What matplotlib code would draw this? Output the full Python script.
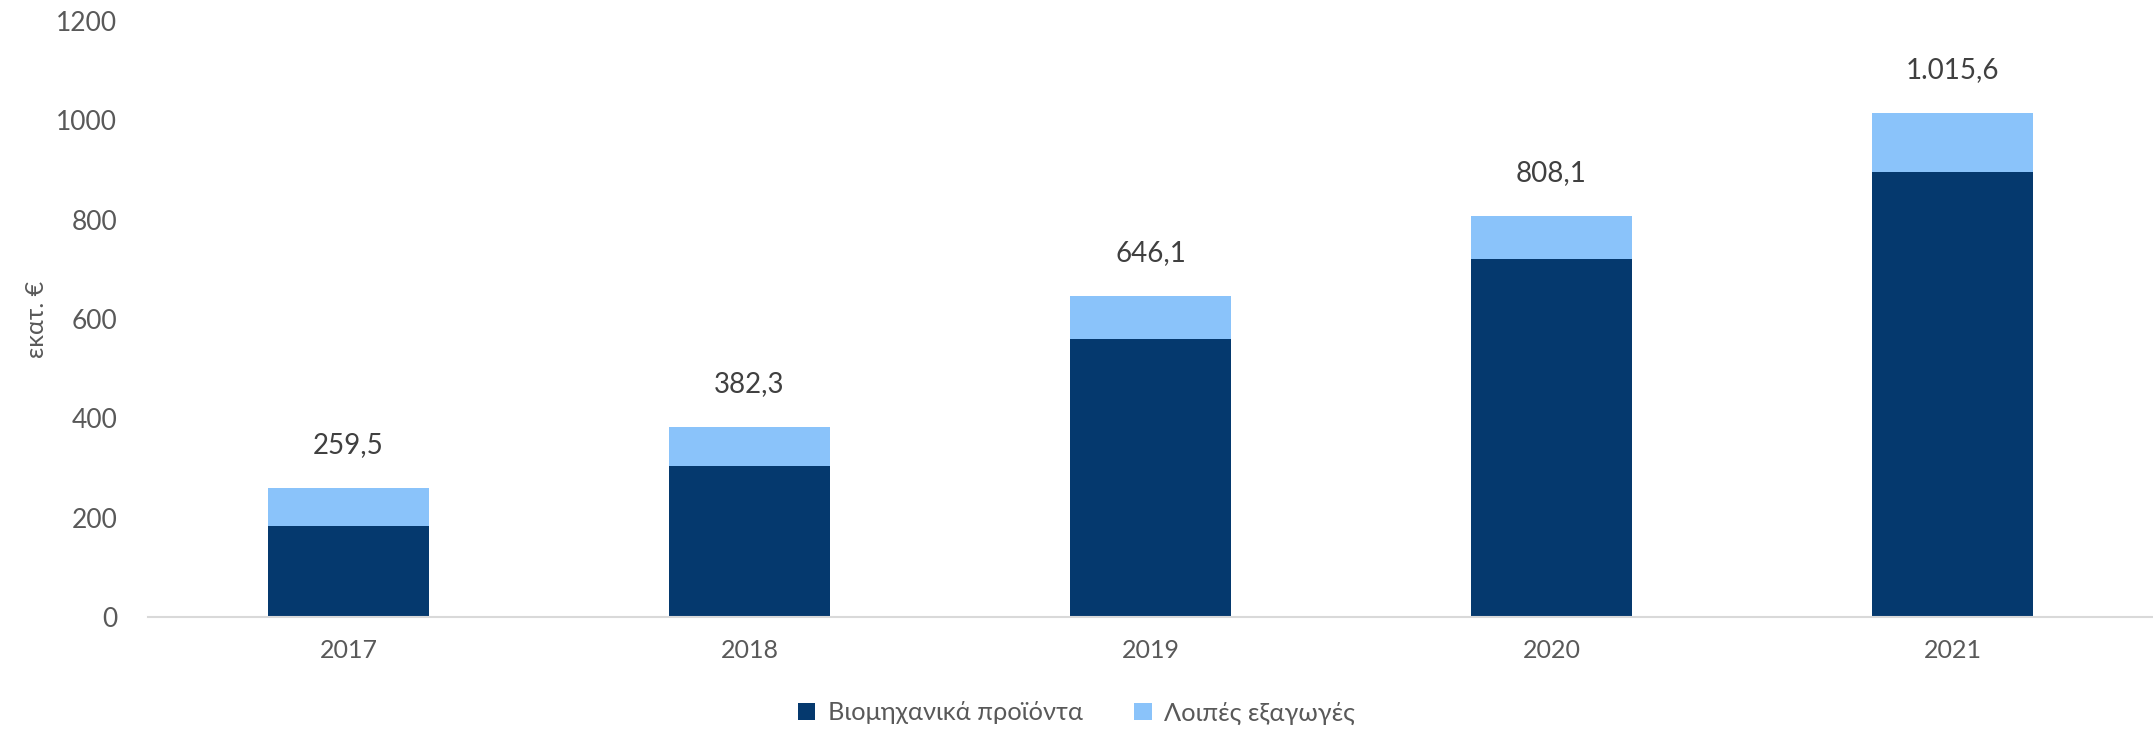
import matplotlib
matplotlib.use("Agg")
import matplotlib.pyplot as plt
import numpy as np

years = ["2017", "2018", "2019", "2020", "2021"]
industrial = [184.0, 305.0, 559.0, 721.0, 897.0]
totals = [259.5, 382.3, 646.1, 808.1, 1015.6]
other = [t - i for t, i in zip(totals, industrial)]
total_labels = ["259,5", "382,3", "646,1", "808,1", "1.015,6"]
series_names = ["Βιομηχανικά προϊόντα", "Λοιπές εξαγωγές"]
yticks = [0, 200, 400, 600, 800, 1000, 1200]

plt.rcParams['font.family'] = ['Lato', 'DejaVu Sans']

dark = "#05396E"
light = "#8AC3FA"
tick_color = "#595959"

fig = plt.figure(figsize=(21.53, 7.29), dpi=100)
ax = fig.add_axes([0.0687, 0.1536, 0.9313, 0.8175])

x = np.arange(len(years))
w = 0.4
ax.bar(x, industrial, w, color=dark, label=series_names[0])
ax.bar(x, other, w, bottom=industrial, color=light, label=series_names[1])

for xi, t, lab in zip(x, totals, total_labels):
    ax.annotate(lab, (xi, t), xytext=(0, 31), textcoords="offset points",
                ha="center", va="center", fontsize=20, color="#404040")

ax.set_xlim(-0.5, len(years) - 0.5)
ax.set_ylim(0, 1200)
ax.set_yticks(yticks)
ax.set_yticklabels([str(v) for v in yticks])
ax.set_xticks(x)
ax.set_xticklabels(years)
ax.tick_params(axis='y', length=0, pad=22, labelsize=19, labelcolor=tick_color)
ax.tick_params(axis='x', length=0, pad=16, labelsize=18, labelcolor=tick_color)
for s in ["top", "right", "left"]:
    ax.spines[s].set_visible(False)
ax.spines["bottom"].set_color("#D9D9D9")
ax.spines["bottom"].set_linewidth(1.5)

fig.text(37 / 2153, 1 - 319 / 729, "εκατ. €", rotation=90, ha="center", va="center",
         fontsize=18, color=tick_color)

leg = fig.legend(loc="center", bbox_to_anchor=(0.5, 0.022), ncol=2, frameon=False,
                 fontsize=18.3, handlelength=0.7, handleheight=0.7, columnspacing=2.0,
                 handletextpad=0.5)
for t in leg.get_texts():
    t.set_color(tick_color)

fig.savefig("out.png", dpi=100)
